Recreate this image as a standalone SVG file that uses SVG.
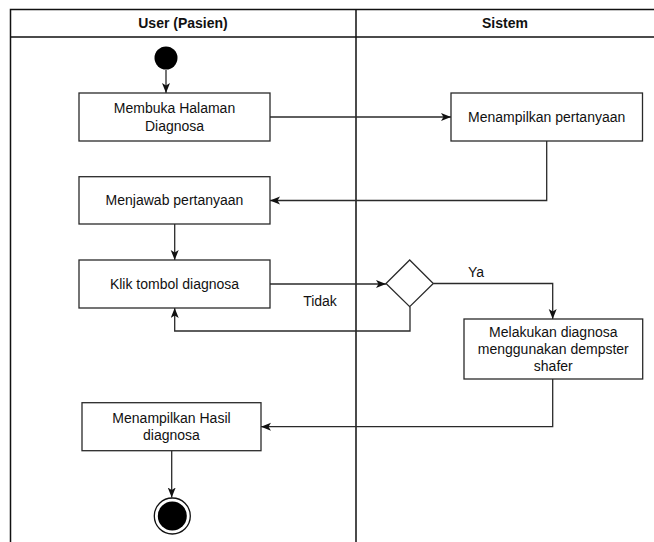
<svg xmlns="http://www.w3.org/2000/svg" width="654" height="542" viewBox="0 0 654 542">
<style>
.frame{fill:none;stroke:#111;stroke-width:1.5}
.box{fill:#fff;stroke:#2a2a2a;stroke-width:1.3}
.con{fill:none;stroke:#2a2a2a;stroke-width:1.3}
text{font-family:"Liberation Sans",Arial,Helvetica,sans-serif;font-size:14px;fill:#111}
.hd{font-weight:bold;text-anchor:middle}
.c{text-anchor:middle}
</style>
<defs>
<marker id="arr" markerUnits="userSpaceOnUse" markerWidth="12" markerHeight="10" refX="10" refY="4" orient="auto">
<path d="M0,0 L10,4 L0,8 L2.5,4 Z" fill="#111"/>
</marker>
</defs>
<rect width="654" height="542" fill="#fff"/>
<g id="swimlanes">
<path class="frame" d="M10.5,560 V9.5 H670 M10.5,37 H670 M356,9.5 V560"/>
<text class="hd" x="183" y="28.3">User (Pasien)</text>
<text class="hd" x="505" y="28.3">Sistem</text>
</g>
<g id="connectors">
<path class="con" d="M166,70 V93" marker-end="url(#arr)"/>
<path class="con" d="M270,117 H451" marker-end="url(#arr)"/>
<path class="con" d="M546.7,141 V200.5 H270" marker-end="url(#arr)"/>
<path class="con" d="M174.7,224 V260" marker-end="url(#arr)"/>
<path class="con" d="M270,284 H386" marker-end="url(#arr)"/>
<path class="con" d="M433.3,283.5 H552.7 V319" marker-end="url(#arr)"/>
<path class="con" d="M410,306.7 V331 H174.7 V308" marker-end="url(#arr)"/>
<path class="con" d="M552.7,379 V426.7 H261" marker-end="url(#arr)"/>
<path class="con" d="M171.7,451 V497.5" marker-end="url(#arr)"/>
<text x="468" y="277">Ya</text>
<text class="c" x="320" y="306">Tidak</text>
</g>
<g id="start"><circle cx="166" cy="58" r="11.5" fill="#000"/></g>
<g id="membuka">
<rect class="box" x="79" y="93" width="191" height="48"/>
<text class="c" x="174.5" y="113.3">Membuka Halaman</text>
<text class="c" x="174.5" y="130.7">Diagnosa</text>
</g>
<g id="menampilkan-pertanyaan">
<rect class="box" x="451" y="93" width="191.5" height="48"/>
<text class="c" x="546.7" y="121.7">Menampilkan pertanyaan</text>
</g>
<g id="menjawab">
<rect class="box" x="79" y="176.7" width="191" height="47.3"/>
<text class="c" x="174.5" y="205">Menjawab pertanyaan</text>
</g>
<g id="klik">
<rect class="box" x="79" y="260" width="191" height="48"/>
<text class="c" x="174.5" y="288.5">Klik tombol diagnosa</text>
</g>
<g id="decision">
<path class="box" d="M409.7,260 L433.3,283.5 L409.7,306.7 L386,283.5 Z"/>
</g>
<g id="melakukan">
<rect class="box" x="464" y="319" width="178.7" height="60"/>
<text class="c" x="553.3" y="337">Melakukan diagnosa</text>
<text class="c" x="553.3" y="354">menggunakan dempster</text>
<text class="c" x="553.3" y="371">shafer</text>
</g>
<g id="hasil">
<rect class="box" x="82" y="402.7" width="179" height="48"/>
<text class="c" x="171.5" y="422.7">Menampilkan Hasil</text>
<text class="c" x="171.5" y="440">diagnosa</text>
</g>
<g id="end">
<circle cx="172.3" cy="516" r="18" fill="#fff" stroke="#111" stroke-width="1.3"/>
<circle cx="172.3" cy="516" r="14.5" fill="#000"/>
</g>
</svg>
